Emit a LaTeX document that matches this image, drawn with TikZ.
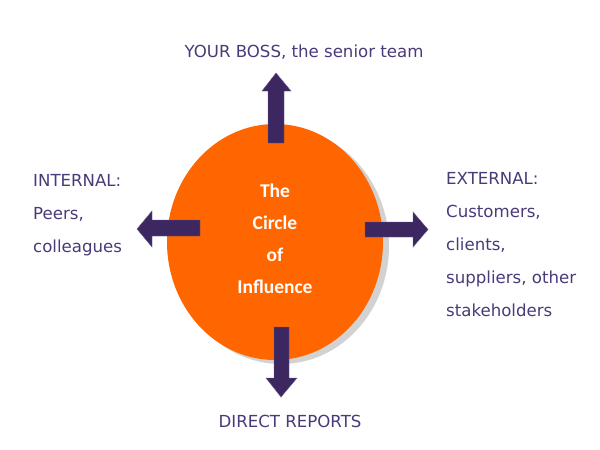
\documentclass[tikz,border=0pt]{standalone}
\usepackage{fontspec}
\setmainfont{DejaVu Sans}
\newfontfamily\calib{Carlito}
\definecolor{txtpurple}{HTML}{4A3A7A}
\definecolor{arrpurple}{HTML}{3D2760}
\definecolor{arredge}{HTML}{6A5A90}
\definecolor{circorange}{HTML}{FF6600}
\definecolor{shadowgray}{HTML}{D2D2D2}
\tikzset{
  lbl/.style={text=txtpurple, font=\fontsize{16.6}{33}\selectfont, inner sep=0pt},
  blockarrow/.style={fill=arrpurple, draw=arredge, line width=0.4pt, line join=miter},
  ctr/.style={text=white, font=\calib\bfseries\fontsize{19.5}{32}\selectfont, align=center, inner sep=0pt}
}
\begin{document}
\begin{tikzpicture}[x=1pt,y=-1pt]
\useasboundingbox[fill=white] (0,0) rectangle (600,450);
% shadow and circle
\fill[shadowgray] (281,246) ellipse [x radius=108, y radius=118];
\fill[circorange] (275,242) ellipse [x radius=108, y radius=118];
\node[ctr, anchor=base] (title) at (275,293) {The\\Circle\\of\\Influence};
% up arrow
\draw[blockarrow] (268,143) -- (268,91) -- (262,91) -- (276,73) -- (291,91) -- (284,91) -- (284,143) -- cycle;
% down arrow
\draw[blockarrow] (274,327) -- (274,378) -- (266,378) -- (281,397) -- (297,378) -- (289,378) -- (289,327) -- cycle;
% left arrow
\draw[blockarrow] (200,220) -- (152,220) -- (152,211) -- (137,229) -- (152,247) -- (152,236) -- (200,236) -- cycle;
% right arrow
\draw[blockarrow] (365,222) -- (413,222) -- (413,212) -- (428,229.5) -- (413,247) -- (413,237) -- (365,237) -- cycle;
% labels
\node[lbl, anchor=base] (boss) at (304,57) {YOUR BOSS, the senior team};
\node[lbl, anchor=base] (direct) at (290,427) {DIRECT REPORTS};
\node[lbl, anchor=base west, align=left] (internal) at (33,252) {INTERNAL:\\Peers,\\colleagues};
\node[lbl, anchor=base west, align=left] (external) at (446,316) {EXTERNAL:\\Customers,\\clients,\\suppliers, other\\stakeholders};
\end{tikzpicture}
\end{document}
